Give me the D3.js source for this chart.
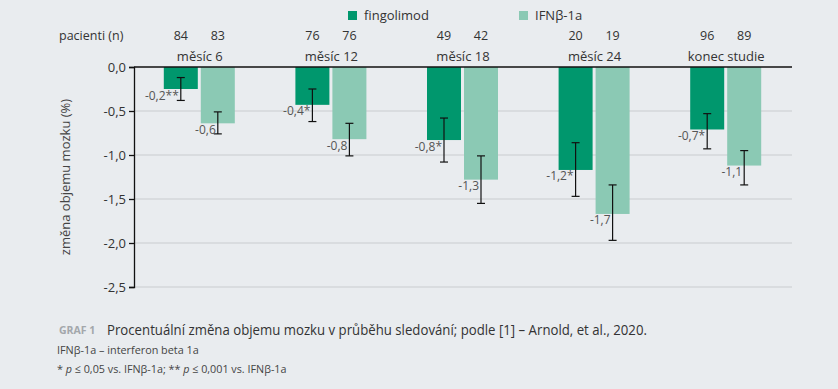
<!DOCTYPE html>
<html>
<head>
<meta charset="utf-8">
<script src="https://cdn.jsdelivr.net/npm/d3@7"></script>
<style>
  body { margin: 0; background: #e9ecef; }
  svg { display: block; font-family: "Open Sans", "Noto Sans", sans-serif; }
</style>
</head>
<body>
<svg id="chart" width="838" height="389"></svg>
<script>
const groups = ["měsíc 6", "měsíc 12", "měsíc 18", "měsíc 24", "konec studie"];
const series = ["fingolimod", "IFNβ-1a"];
const nFingo = [84, 76, 49, 20, 96];
const nIfn = [83, 76, 42, 19, 89];
const fingo = [-0.25, -0.43, -0.83, -1.17, -0.71];
const ifn = [-0.64, -0.82, -1.28, -1.67, -1.12];
const fingoErr = [[-0.12, -0.38], [-0.25, -0.62], [-0.58, -1.08], [-0.86, -1.47], [-0.53, -0.93]];
const ifnErr = [[-0.51, -0.76], [-0.64, -1.01], [-1.01, -1.55], [-1.34, -1.97], [-0.95, -1.34]];
const fingoLabels = ["-0,2**", "-0,4*", "-0,8*", "-1,2*", "-0,7*"];
const ifnLabels = ["-0,6", "-0,8", "-1,3", "-1,7", "-1,1"];
const yTicks = [0, -0.5, -1, -1.5, -2, -2.5];

const colors = { "fingolimod": "#00976d", "IFNβ-1a": "#8bc9b4" };

const svg = d3.select("#chart");
const plotL = 134, plotR = 792, plotT = 67, plotB = 287;

const x0 = d3.scaleBand().domain(groups).range([plotL, plotR]);
const x1 = d3.scaleBand().domain(series)
    .range([x0.bandwidth() / 2 - 36, x0.bandwidth() / 2 + 35])
    .paddingInner(3 / 37);
const y = d3.scaleLinear().domain([0, -2.5]).range([plotT, plotB]);

const rows = groups.map((g, i) => ({
    group: g,
    bars: [
        { key: "fingolimod", v: fingo[i], err: fingoErr[i], label: fingoLabels[i], n: nFingo[i] },
        { key: "IFNβ-1a", v: ifn[i], err: ifnErr[i], label: ifnLabels[i], n: nIfn[i] }
    ]
}));

// squeeze a text horizontally so it spans `w` px (the source uses a narrow face)
function fitWidth(sel, x, yPos, w) {
    const len = sel.node().getComputedTextLength();
    sel.attr("transform", `translate(${x},${yPos}) scale(${w / len},1)`);
}

// gridlines
svg.append("g")
    .selectAll("line")
    .data(yTicks.filter(d => d !== 0))
    .join("line")
    .attr("x1", plotL).attr("x2", plotR)
    .attr("y1", d => y(d)).attr("y2", d => y(d))
    .attr("stroke", "#c9cccf").attr("stroke-width", 1);

// y axis
const yAxis = svg.append("g")
    .attr("transform", `translate(${plotL},0)`)
    .call(d3.axisLeft(y).tickValues(yTicks).tickSize(5).tickPadding(3)
        .tickFormat(d => d3.format(".1f")(d).replace(".", ",").replace("−", "-")));
yAxis.select(".domain").attr("stroke", "#111").attr("stroke-width", 1.3);
yAxis.selectAll(".tick line").attr("stroke", "#111").attr("stroke-width", 1.3);
yAxis.selectAll(".tick text").attr("font-size", 13).attr("fill", "#333")
    .attr("font-family", "'Open Sans', sans-serif");

// bars
const grp = svg.append("g").selectAll("g")
    .data(rows)
    .join("g")
    .attr("transform", d => `translate(${x0(d.group)},0)`);

grp.selectAll("rect")
    .data(d => d.bars)
    .join("rect")
    .attr("x", d => x1(d.key))
    .attr("y", y(0))
    .attr("width", x1.bandwidth())
    .attr("height", d => y(d.v) - y(0))
    .attr("fill", d => colors[d.key]);

// error bars
const eb = grp.selectAll("g.err")
    .data(d => d.bars)
    .join("g")
    .attr("class", "err")
    .attr("transform", d => `translate(${x1(d.key) + x1.bandwidth() / 2},0)`);
eb.append("line")
    .attr("y1", d => y(d.err[0])).attr("y2", d => y(d.err[1]))
    .attr("stroke", "#111").attr("stroke-width", 1.2);
eb.selectAll("line.cap")
    .data(d => d.err)
    .join("line")
    .attr("class", "cap")
    .attr("x1", -4).attr("x2", 4)
    .attr("y1", d => y(d)).attr("y2", d => y(d))
    .attr("stroke", "#111").attr("stroke-width", 1.2);

// value labels
eb.append("text")
    .attr("x", -2)
    .attr("y", d => y(d.v) + 10.5)
    .attr("text-anchor", "end")
    .attr("font-size", 12)
    .attr("fill", "#555")
    .text(d => d.label);

// n labels
eb.append("text")
    .attr("y", 40)
    .attr("text-anchor", "middle")
    .attr("font-size", 12.5)
    .attr("fill", "#333")
    .text(d => d.n);

// group labels
grp.append("text")
    .attr("x", x0.bandwidth() / 2)
    .attr("y", 61)
    .attr("text-anchor", "middle")
    .attr("font-size", 13)
    .attr("fill", "#333")
    .text(d => d.group);

// top zero line
svg.append("line")
    .attr("x1", plotL).attr("x2", plotR)
    .attr("y1", y(0)).attr("y2", y(0))
    .attr("stroke", "#111").attr("stroke-width", 1.3);

svg.append("text")
    .attr("x", 59).attr("y", 40)
    .attr("font-size", 12.5).attr("fill", "#333")
    .text("pacienti (n)");

// y title
svg.append("text")
    .attr("transform", `translate(70,${(plotT + plotB) / 2}) rotate(-90)`)
    .attr("text-anchor", "middle")
    .attr("font-size", 13).attr("fill", "#444")
    .text("změna objemu mozku (%)");

// legend
const legendX = [348, 519];
const lg = svg.append("g").selectAll("g")
    .data(series)
    .join("g")
    .attr("transform", (d, i) => `translate(${legendX[i]},11)`);
lg.append("rect").attr("width", 9).attr("height", 9).attr("fill", d => colors[d]);
lg.append("text").attr("x", 16).attr("y", 9)
    .attr("font-size", 13).attr("fill", "#333").text(d => d);

// caption
svg.append("text")
    .attr("x", 59).attr("y", 334)
    .attr("font-size", 10.5).attr("font-weight", "bold").attr("fill", "#a3a7ab")
    .text("GRAF 1");
const cap1 = svg.append("text")
    .attr("font-size", 14).attr("fill", "#333")
    .text("Procentuální změna objemu mozku v průběhu sledování; podle [1] – Arnold, et al., 2020.");
fitWidth(cap1, 107, 335, 540);
const cap2 = svg.append("text")
    .attr("font-size", 11.5).attr("fill", "#444")
    .text("IFNβ-1a – interferon beta 1a");
fitWidth(cap2, 57, 354, 142);
const cap3 = svg.append("text")
    .attr("font-size", 11.5).attr("fill", "#444");
cap3.append("tspan").text("* ");
cap3.append("tspan").attr("font-style", "italic").text("p");
cap3.append("tspan").text(" ≤ 0,05 vs. IFNβ-1a; ** ");
cap3.append("tspan").attr("font-style", "italic").text("p");
cap3.append("tspan").text(" ≤ 0,001 vs. IFNβ-1a");
fitWidth(cap3, 57, 373, 230);
</script>
</body>
</html>
